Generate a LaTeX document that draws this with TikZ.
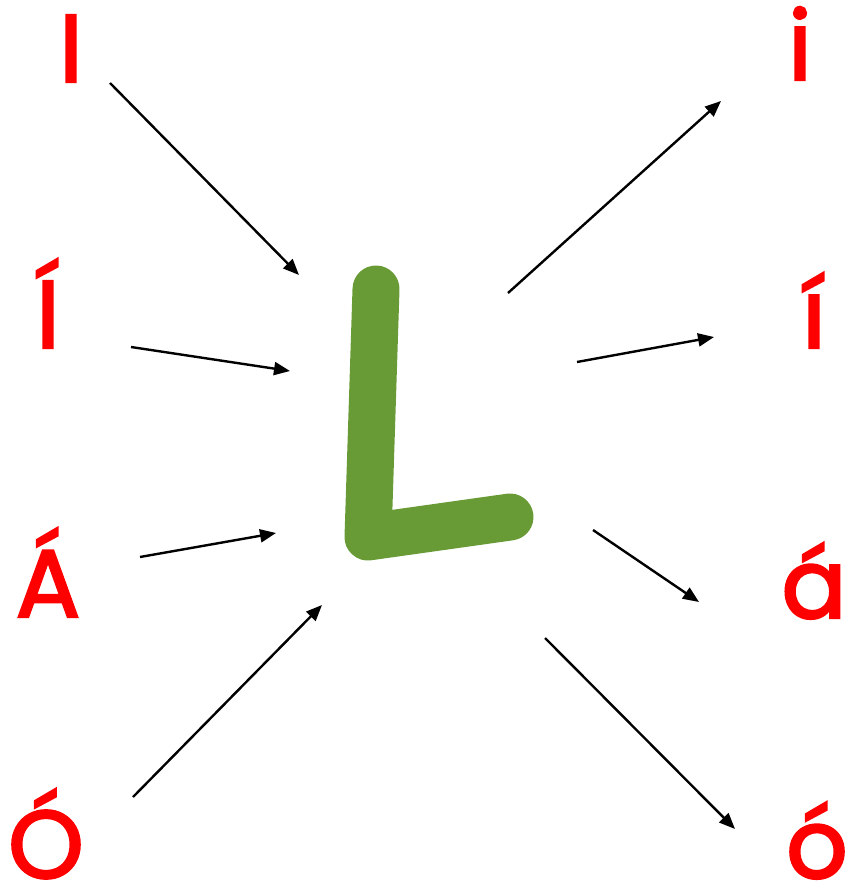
\documentclass[tikz,border=0pt]{standalone}
\usepackage{fontspec}
\newfontfamily\letterfont{Poppins}[FakeBold=2.5]
\usetikzlibrary{arrows.meta}
\definecolor{letterred}{RGB}{255,0,0}
\definecolor{lgreen}{RGB}{104,155,54}

\begin{document}
\begin{tikzpicture}[x=1pt, y=-1pt,
    every node/.style={font=\fontsize{96}{96}\letterfont, text=letterred, inner sep=0pt},
    arr/.style={-{Triangle[length=16pt,width=13pt]}, line width=2.4pt}]
    \useasboundingbox (0,0) rectangle (849,890);

    % Capitals on the left, small letters on the right (placed on their baseline)
    \foreach \n/\t/\x/\y in {
        I/I/71/82, Iac/Í/48/348, Aac/Á/48/617, Oac/Ó/46/878,
        i/i/800/80, iac/í/814/348, aac/á/814/618, oac/ó/817/878%
    }{%
        \node[anchor=base] (\n) at (\x,\y) {\t};
    }

    % The green L in the middle
    \draw[lgreen, line width=47pt, line cap=round, line join=round]
        (376,289) -- (368,537) -- (510,517);

    % Arrow ends: s = start, e = tip
    \foreach \n/\x/\y in {
        s1/110/83,  e1/299/275, s2/131/347, e2/290/371,
        s3/140/557, e3/276/533, s4/133/797, e4/322/605,
        s5/508/293, e5/721/101, s6/577/362, e6/714/337,
        s7/593/530, e7/699/602, s8/545/638, e8/735/829%
    }{%
        \coordinate (\n) at (\x,\y);
    }
    \foreach \k in {1,...,8}
        \draw[arr] (s\k) -- (e\k);
\end{tikzpicture}
\end{document}
